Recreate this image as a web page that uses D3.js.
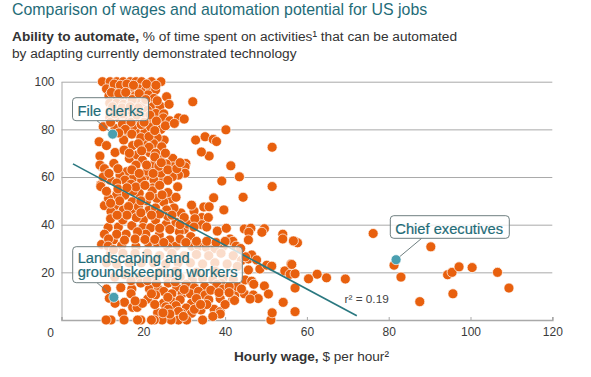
<!DOCTYPE html>
<html><head><meta charset="utf-8">
<script src="https://cdnjs.cloudflare.com/ajax/libs/d3/7.8.5/d3.min.js"></script>
<style>
html,body{margin:0;padding:0;background:#fff}
svg{display:block}
text{font-family:"Liberation Sans",Arial,sans-serif}
</style></head><body><svg id="c" width="591" height="377"></svg>
<script>
// Hourly wage ($), % automatable: every occupation
const occupations = [
[10,100],[11.9,100],[13.5,100],[15.1,100],[16.8,100],[18.2,100],[19.6,100],[22,100],[24.3,100],
[11,97],[12.8,97.5],[14.2,96.5],[15.8,97],[17.3,96.5],[19,97],[20.6,96.5],[21.8,97],[23,96.5],
[11.6,94],[13.2,94.5],[14.8,93.5],[16.5,94],[18,94],[19.8,93.5],[21.2,94.5],[22.6,93],[25.7,93.7],
[11.8,91],[13.5,91],[15.2,90.5],[17,91],[18.7,91],[20.3,90.5],[22.3,89.5],[24.1,89.8],[26.3,90.5],[32.1,91.6],
[12,88],[14,88],[16,87.5],[17.8,88],[19.5,87.5],[21,88],[23.1,86.7],[25,86.5],
[11.8,85],[13.8,85],[15.5,84.5],[17.5,85],[19,84],[20.5,85],[22.4,82.8],[24.9,84.8],[26.5,83.6],[28.6,84.8],[30,84.3],
[10.2,81.1],[13.1,80.4],[14.9,82.2],[16.3,78.6],[18.4,78.3],[20.4,79],[24.3,80],[17.6,81.5],[19.5,82],[21.8,81],[23,78],[12,83],
[25.1,75.5],[20.8,74.2],[17.4,73.2],[9.2,74.8],[11,73.2],[23.4,76.5],[22.5,74],[24.5,72.7],[15.2,75.5],
[13.1,70.3],[15.3,71.3],[9.4,68.8],[16.6,67.8],[18.5,69.2],[21.6,70.2],[24.1,67.8],[27.2,67.8],[19.8,67],[22.8,66],
[27.3,64.3],[30.4,65.7],[30.2,64.3],[30.2,61.6],[28.6,60.8],[27.1,60.1],[24.9,58.7],[24.3,61.6],[22.6,65],[23.8,64.5],[25.6,65.5],
[20.8,60.5],[18.2,65],[15.9,62.2],[14.3,60.8],[12.8,65.7],[9.8,64.3],[9.4,65],[10.5,63.5],[17.6,59.7],[19.6,58.7],[22.6,58.7],[9.6,56.7],[11.9,58.7],[15.5,58.7],[10.2,60],[13.5,57.5],[17,57],[21,62.5],
[22.3,55.4],[28.4,55.9],[39.2,58.3],[43.5,60.1],[41.4,64.7],[36.1,68.8],[34.2,70.5],[32.8,75.5],[35.1,76.9],[37.1,75.8],[37.9,74.9],[40.2,79.8],[51.5,72.5],
[51.5,56],[44.4,51.5],[39.7,46.2],[37.2,51.3],[34.8,47.4],[36.1,47.5],[32.4,45.7],[31.8,48.2],[29.2,44.9],[26.8,50.8],[25,49.5],[27.5,47],
[9.6,56],[10.5,48],[13.1,48],[12.1,45.5],[15.1,46.2],[17.3,49.6],[15.5,52.4],[19,53.2],[22.2,54.2],[23.3,51],[21.4,46.2],[17.6,45.5],[25.7,46.2],[20,42],[13.5,52.5],[11.5,51],[17.5,54],[20.8,50],[18.8,47.5],[23,47],
[13.9,39],[11.4,38.8],[17.2,39.6],[19.9,38.8],[25.6,40.2],[21.8,38.7],[10.5,36],[15.8,36],[23.9,35.7],[12.7,33.6],[26.5,33.6],[30,38],[31.6,35],[31,40.2],[34.3,43],[35.9,43],[34.3,40],[35.5,39],[23,42],[15,42],[12,42.5],[28,41],[18.3,43],[26,43.5],[28.8,37],
[38.1,37.3],[40.3,38.5],[44.7,38.2],[46.3,38.5],[45.8,36.8],[45.7,33.6],[49.6,38.3],[49,36.8],[54.1,36],[54.1,34],[56.8,33],[57.7,32.4],[56.7,33.2],
[21.2,32.4],[9.8,31.7],[18.2,30.8],[14.7,31.3],[23.3,32.5],[31.8,31],[33.5,31],[35.4,30.5],[39.6,31],[41.2,34],[41.9,33],[42.7,31],[28,31],[37.5,30],[26,30.5],
[12,28],[15,28],[18,28],[21,28],[24,27],[27,28],[30,27],[33,27.5],[36,27],[39,28],[42,27],[44,25],
[11,24],[13.5,23.5],[16.5,24],[19.5,24],[22.5,24],[25.5,23.5],[28.5,24],[31.5,24],[34.5,23.5],[37.5,24],[40.5,23.5],[43,22.5],
[45.7,25.6],[46.5,27.3],[47.7,25.2],[45,26.5],[45.7,21],[48.5,21.4],[50.2,23],[51.4,22.6],[44.9,16.8],[46.5,16.3],[49.6,14.3],[50.6,10.9],[56.1,23.5],[54.6,20.6],[55.9,19.2],[57.1,19.4],[47,15],
[19,18],[23,18],[26,17.5],[29,18],[32,17],[34.5,17.5],[37,17],[39.5,17.5],[42,17],[39,15.5],[24,20],[28,20.5],[33,20],[37.5,20.5],
[11,13],[14.5,13.6],[17.2,13],[17,11],[19.4,15.5],[21.5,13],[23.7,13],[26.1,15.5],[28.2,13.6],[30.5,15],[32.5,13.5],[35,14],[38,15],[39.5,13],[25,12],[27,11],[29.5,11],[31.5,11],[33.5,12],
[35.1,10.5],[42.4,10.5],[44.7,11],[46.9,10.5],[48.1,9],[46.1,8.8],[41.9,8.7],[42.3,8.2],[38.8,9],[36,8.5],[31.8,7],[27.3,7.5],[24.9,7],[21.1,8.8],[23,10.5],[26,9.5],[29,8.5],[33,9],[25.5,5.5],[28,6],[30.5,5],
[11.7,9.1],[15.4,7.4],[13.1,7],[17.4,5.3],[18.5,5.3],[14.9,2.8],[26.1,4.5],[31.8,2.8],[29.4,2.8],[34.1,4.2],[37.3,4.5],[38.8,3.5],[38.8,2.5],[28.6,3.6],[23.5,3],
[34.5,0],[30.6,0],[28.6,0],[26.8,0],[24.6,0],[22.7,0],[22,0],[19.4,0],[18.6,0],[15.3,0],[12.1,0],[10.9,0],[51.2,0],[51.5,3],[54.2,7.4],[57.1,3.5],
[76.2,36.3],[90.3,30.7],[81.3,23],[83,18],[94.4,19],[95.5,20],[97.2,22.3],[100.4,22],[106.6,20],[109.4,13.4],[95.7,11],[87.6,7.7],[69.4,17.2],[64.8,17.7],[62.5,19.2],[60.4,17.3],[57.1,13.4],[56.3,23.3],
// second pass: overlapping occupations in the dense body
[12.9,99],[14.4,98.5],[16,99],[17.6,98.5],[20.8,99],[23.1,98.5],[12.2,95.5],[14,95],[15.7,95.5],[17.3,92.5],[19,95],[20.6,92.5],[23.4,92],
[12.5,89.5],[14.8,89],[16.8,89.5],[18.8,89],[21.6,86],[13,86.5],[15,86.5],[17,83],[18.4,86],[20.2,83],[23.2,83.5],[25.4,81.5],[27.6,82.5],
[15.6,80],[17.2,78],[19.4,76.5],[21.4,77],[22.8,79.5],[14,78.5],[18.8,74],[21.4,72.5],[16.6,70],[19.6,71],[23,70],[25.4,70],[22.8,68.4],[20.8,65],[24.4,66],[26,63],[28.2,63.5],[29,66],[17.2,63],[19,61.5],[13.8,63.5],[11.6,61.5],[22.4,61.5],[26,58.6],[18.2,55.8],[20.4,56.5],[24,56.5],[11,54],[13.8,55],[16,55.5],
[26,53.5],[28,51.5],[24.6,52.5],[21.6,52],[19.4,50],[16.4,47.6],[14.2,50],[12,49],[24,44.5],[22,44],[19.4,45],[16,44],[13.6,44],[27,44],[30,43],[32.6,42.5],[32.4,39],[29,40],[26.5,38],[24,38.5],[20.6,36],[18.6,37],[13.5,36],[11.5,34],[15.4,33.5],[18,34],[20.4,33.8],[22.8,33.8],[25,32.5],[29,34],[30.4,32.5],[33,33],[35.5,33],[37.8,32.5],[40,33],[43.8,30],[11.4,31],[12.7,29.5],
[13,18],[15.5,19],[17,16.5],[21,16.5],[43,14],[41,14],[44,13],[36.5,12.5],[38.5,11.5],[41,11.5],[30,12.8],[27.8,16],[23.2,15.5],[22,11],[19.8,7],[22.8,6.5],[32.5,4.5],[35.5,6.5],[40,6.5],[34,6.5],[26.5,2.5],[29.8,1.5],[24.8,3],[37,1.5],[18,8]
];
const highlighted = [[12.5,78],[12.8,9.5],[81.8,25.3]];
const trendLine = [[2.8,65.5],[72.2,1.8]];
const xTicks = [0,20,40,60,80,100,120];
const yTicks = [20,40,60,80,100];
const calloutLabels = [["File clerks"],["Landscaping and","groundskeeping workers"],["Chief executives"]];

const svg = d3.select("#c");
const x = d3.scaleLinear().domain([0,120]).range([61.5,552.3]);
const y = d3.scaleLinear().domain([0,100]).range([320,81.7]);
const TEAL="#1f6c78", INK="#3a3a3a", GRID="#a9a9a9";

// Headings
svg.append("text").attr("x",12).attr("y",14.5).attr("font-size",15.9).attr("fill",TEAL)
  .text("Comparison of wages and automation potential for US jobs");
const sub = svg.append("text").attr("font-size",13.7).attr("fill","#333");
sub.append("tspan").attr("x",12).attr("y",41).attr("font-weight","bold").text("Ability to automate,");
sub.append("tspan").text(" % of time spent on activities¹ that can be automated");
sub.append("tspan").attr("x",12).attr("y",57.5).text("by adapting currently demonstrated technology");

// Axes
const gy = svg.append("g").attr("transform",`translate(${x(0)},0)`)
  .call(d3.axisLeft(y).tickValues(yTicks).tickSize(0).tickPadding(7).tickFormat(d3.format("d")));
gy.select(".domain").attr("stroke",GRID);
gy.selectAll(".tick").append("line").attr("x1",0).attr("x2",x(120)-x(0)).attr("stroke",GRID).attr("stroke-width",1);
gy.selectAll("text").attr("font-size",12).attr("fill",INK).style("font-family",'"Liberation Sans",Arial,sans-serif');

const gx = svg.append("g").attr("transform",`translate(0,${y(0)})`)
  .call(d3.axisBottom(x).tickValues(xTicks).tickSize(-3).tickPadding(7).tickFormat(d=>d===0?"":d));
gx.select(".domain").attr("stroke",GRID).attr("stroke-width",1.6);
gx.selectAll("line").attr("stroke",GRID);
gx.selectAll("text").attr("font-size",12).attr("fill",INK).style("font-family",'"Liberation Sans",Arial,sans-serif');
svg.append("text").attr("x",50.7).attr("y",337).attr("text-anchor","middle").attr("font-size",12).attr("fill",INK).text("0");

const xt = svg.append("text").attr("x",311.5).attr("y",360.7).attr("text-anchor","middle").attr("font-size",13.6).attr("fill","#333");
xt.append("tspan").attr("font-weight","bold").text("Hourly wage,");
xt.append("tspan").text(" $ per hour²");

// Points
svg.append("g").selectAll("circle").data(occupations).join("circle")
  .attr("cx",d=>x(d[0])).attr("cy",d=>y(d[1])).attr("r",5)
  .attr("fill","#e8600e").attr("stroke","#fff").attr("stroke-width",.7);

// Trend line
svg.append("path").attr("d",d3.line().x(d=>x(d[0])).y(d=>y(d[1]))(trendLine))
  .attr("stroke","#2a7880").attr("stroke-width",1.6).attr("fill","none");
svg.append("text").attr("x",344.5).attr("y",303).attr("font-size",11.8).attr("fill","#444").text("r² = 0.19");

// Callouts (box geometry: left, top, width, height, leader start, first baseline offset)
const boxes = [
 {b:[72.5,97.7,76,23],from:[97,120.7],base:18.3},
 {b:[72.7,246.7,169.6,36],from:[97,282.7],base:16.6},
 {b:[390.3,215.7,119,22.6],from:[421.7,238.3],base:18.3}
];
boxes.forEach((o,i)=>{
  const p = highlighted[i];
  svg.append("line").attr("x1",o.from[0]).attr("y1",o.from[1]).attr("x2",x(p[0])).attr("y2",y(p[1]))
    .attr("stroke","#6f7f80").attr("stroke-width",1);
  svg.append("rect").attr("x",o.b[0]).attr("y",o.b[1]).attr("width",o.b[2]).attr("height",o.b[3]).attr("rx",3.5)
    .attr("fill","#fff").attr("fill-opacity",.78).attr("stroke","#6f7f80").attr("stroke-width",1);
  calloutLabels[i].forEach((t,j)=>{
    svg.append("text").attr("x",o.b[0]+5).attr("y",o.b[1]+o.base+j*14).attr("font-size",14.7)
      .attr("fill",TEAL).attr("stroke",TEAL).attr("stroke-width",.2).text(t);
  });
});
svg.append("g").selectAll("circle").data(highlighted).join("circle")
  .attr("cx",d=>x(d[0])).attr("cy",d=>y(d[1])).attr("r",5)
  .attr("fill","#4a9fb0").attr("stroke","#fff").attr("stroke-width",.7);
</script></body></html>
